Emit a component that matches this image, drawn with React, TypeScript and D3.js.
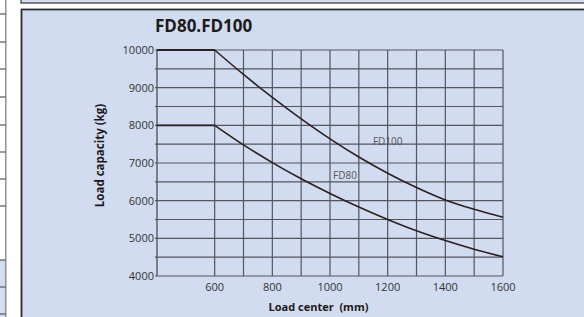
import * as d3 from "d3";
import React from "react";

const loadCenters = [600, 700, 800, 900, 1000, 1100, 1200, 1300, 1400, 1500, 1600];
const fd100 = [10000, 9350, 8740, 8170, 7640, 7160, 6730, 6350, 6020, 5770, 5560];
const fd80 = [8000, 7480, 7010, 6580, 6190, 5830, 5500, 5200, 4940, 4710, 4510];
const flatStart = 400;
const yTicks = [4000, 5000, 6000, 7000, 8000, 9000, 10000];
const xTicks = [600, 800, 1000, 1200, 1400, 1600];
const stripLines = [14, 42, 69, 97, 125, 152, 179, 206, 260, 287, 314];

const W = 584;
const H = 317;
const bg = "#d1dcf0";
const ink = "#2b2020";
const grid = "#55555c";
const font = "'Open Sans', 'DejaVu Sans', sans-serif";

const x = d3.scaleLinear().domain([400, 1600]).range([157, 503]);
const y = d3.scaleLinear().domain([4000, 10000]).range([276, 50]);

type Series = { name: string; values: number[]; lx: number; ly: number };
const series: Series[] = [
  { name: "FD100", values: fd100, lx: 1200, ly: 7565 },
  { name: "FD80", values: fd80, lx: 1052, ly: 6680 },
];

const curve = d3
  .line<[number, number]>()
  .x((d) => x(d[0]))
  .y((d) => y(d[1]))
  .curve(d3.curveMonotoneX);

const App = () => {
  const hGrid = d3.range(4000, 10001, 500);
  const vGrid = d3.range(600, 1601, 100);

  return (
    <svg width={W} height={H} style={{ position: "absolute", left: 0, top: 0 }}>
      <rect x={0} y={0} width={W} height={H} fill="#fff" />
      {/* left table strip */}
      <rect x={0} y={260} width={6} height={H - 260} fill={bg} />
      {stripLines.map((s) => (
        <line key={s} x1={0} x2={6} y1={s} y2={s} stroke="#555" strokeWidth={1.2} />
      ))}
      <line x1={5.8} x2={5.8} y1={0} y2={H} stroke="#777" strokeWidth={1.2} />
      {/* upper box */}
      <rect x={21} y={-5} width={W} height={8} fill={bg} stroke="#333" strokeWidth={1.2} />
      {/* main frame */}
      <rect x={21.5} y={9.5} width={W} height={H} fill={bg} stroke="#2a2a2a" strokeWidth={1.8} />

      <text x={155} y={32} fontFamily={font} fontWeight="bold" fontSize={17} fill="#1e1a1a">
        FD80.FD100
      </text>

      {hGrid.map((v) => (
        <line key={"h" + v} x1={x(400) - 2} x2={x(1600)} y1={y(v)} y2={y(v)} stroke={grid} strokeWidth={1.2} />
      ))}
      {vGrid.map((v) => (
        <line key={"v" + v} x1={x(v)} x2={x(v)} y1={y(10000)} y2={y(4000)} stroke={grid} strokeWidth={1.2} />
      ))}
      <line x1={x(400)} x2={x(400)} y1={y(10000)} y2={y(4000)} stroke={grid} strokeWidth={1.4} />

      {yTicks.map((t) => (
        <text key={"yt" + t} x={x(400) - 3} y={y(t)} dy="0.35em" textAnchor="end" fontFamily={font} fontSize={11} fill="#333">
          {t}
        </text>
      ))}
      {xTicks.map((t) => (
        <text key={"xt" + t} x={x(t)} y={291} textAnchor="middle" fontFamily={font} fontSize={11} fill="#333">
          {t}
        </text>
      ))}

      {series.map((s) => (
        <g key={s.name}>
          <line x1={x(flatStart)} x2={x(loadCenters[0])} y1={y(s.values[0])} y2={y(s.values[0])} stroke={ink} strokeWidth={1.8} />
          <path
            d={curve(loadCenters.map((c, i) => [c, s.values[i]] as [number, number])) || undefined}
            fill="none"
            stroke={ink}
            strokeWidth={1.6}
          />
          <text x={x(s.lx)} y={y(s.ly)} dy="0.35em" textAnchor="middle" fontFamily={font} fontSize={10} fill="#555">
            {s.name}
          </text>
        </g>
      ))}

      <text x={318.5} y={311} textAnchor="middle" fontFamily={font} fontWeight="bold" fontSize={11} fill="#1e1a1a" style={{ whiteSpace: "pre" }}>
        Load center  (mm)
      </text>
      <text
        transform={`translate(103.5, 155.5) rotate(-90)`}
        textAnchor="middle"
        fontFamily={font}
        fontWeight="bold"
        fontSize={11.5}
        fill="#1e1a1a"
      >
        Load capacity (kg)
      </text>
    </svg>
  );
};

export default App;
